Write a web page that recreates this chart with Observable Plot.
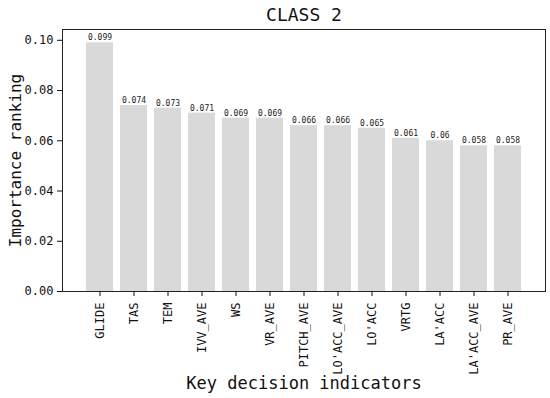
<!DOCTYPE html>
<html>
<head>
<meta charset="utf-8">
<script src="https://cdn.jsdelivr.net/npm/d3@7"></script>
<script src="https://cdn.jsdelivr.net/npm/@observablehq/plot@0.6"></script>
<style>
  html, body { margin: 0; padding: 0; background: #fff; }
</style>
</head>
<body>
<div id="chart"></div>
<script>
const title = "CLASS 2";
const xLabel = "Key decision indicators";
const yLabel = "Importance ranking";
const categories = ["GLIDE", "TAS", "TEM", "IVV_AVE", "WS", "VR_AVE", "PITCH_AVE", "LO'ACC_AVE", "LO'ACC", "VRTG", "LA'ACC", "LA'ACC_AVE", "PR_AVE"];
const values = [0.099, 0.074, 0.073, 0.071, 0.069, 0.069, 0.066, 0.066, 0.065, 0.061, 0.06, 0.058, 0.058];
const valueLabels = ["0.099", "0.074", "0.073", "0.071", "0.069", "0.069", "0.066", "0.066", "0.065", "0.061", "0.06", "0.058", "0.058"];
const yTicks = [0, 0.02, 0.04, 0.06, 0.08, 0.10];

const data = categories.map((c, i) => ({name: c, value: values[i], label: valueLabels[i]}));
const font = "'DejaVu Sans Mono', monospace";

const chart = Plot.plot({
  width: 550,
  height: 398,
  marginLeft: 62,
  marginRight: 5,
  marginTop: 29,
  marginBottom: 107,
  style: {fontFamily: font, fontSize: "12px", color: "#111", background: "#fff"},
  x: {domain: categories, paddingInner: 0.22, paddingOuter: 0.65, label: null},
  y: {domain: [0, 0.1043], label: null},
  marks: [
    Plot.barY(data, {x: "name", y: "value", fill: "#d9d9d9"}),
    Plot.text(data, {x: "name", y: "value", text: "label", dy: -5, fontSize: 8, fill: "#222"}),
    Plot.frame({stroke: "#222", strokeWidth: 1}),
    Plot.axisY({ticks: yTicks, tickFormat: d => d.toFixed(2), tickSize: 5, tickPadding: 4, label: null, fontSize: 12}),
    Plot.axisX({tickRotate: -90, tickSize: 5, tickPadding: 6, label: null, fontSize: 12}),
    Plot.text([title], {text: d => d, frameAnchor: "top", lineAnchor: "middle", dy: -14, fontSize: 18, fill: "#111"}),
    Plot.text([xLabel], {text: d => d, frameAnchor: "bottom", lineAnchor: "middle", dy: 92, fontSize: 17, fill: "#111"}),
    Plot.text([yLabel], {text: d => d, frameAnchor: "left", textAnchor: "middle", lineAnchor: "middle", dx: -47, rotate: -90, fontSize: 16, fill: "#111"})
  ]
});
document.getElementById("chart").appendChild(chart);
</script>
</body>
</html>
